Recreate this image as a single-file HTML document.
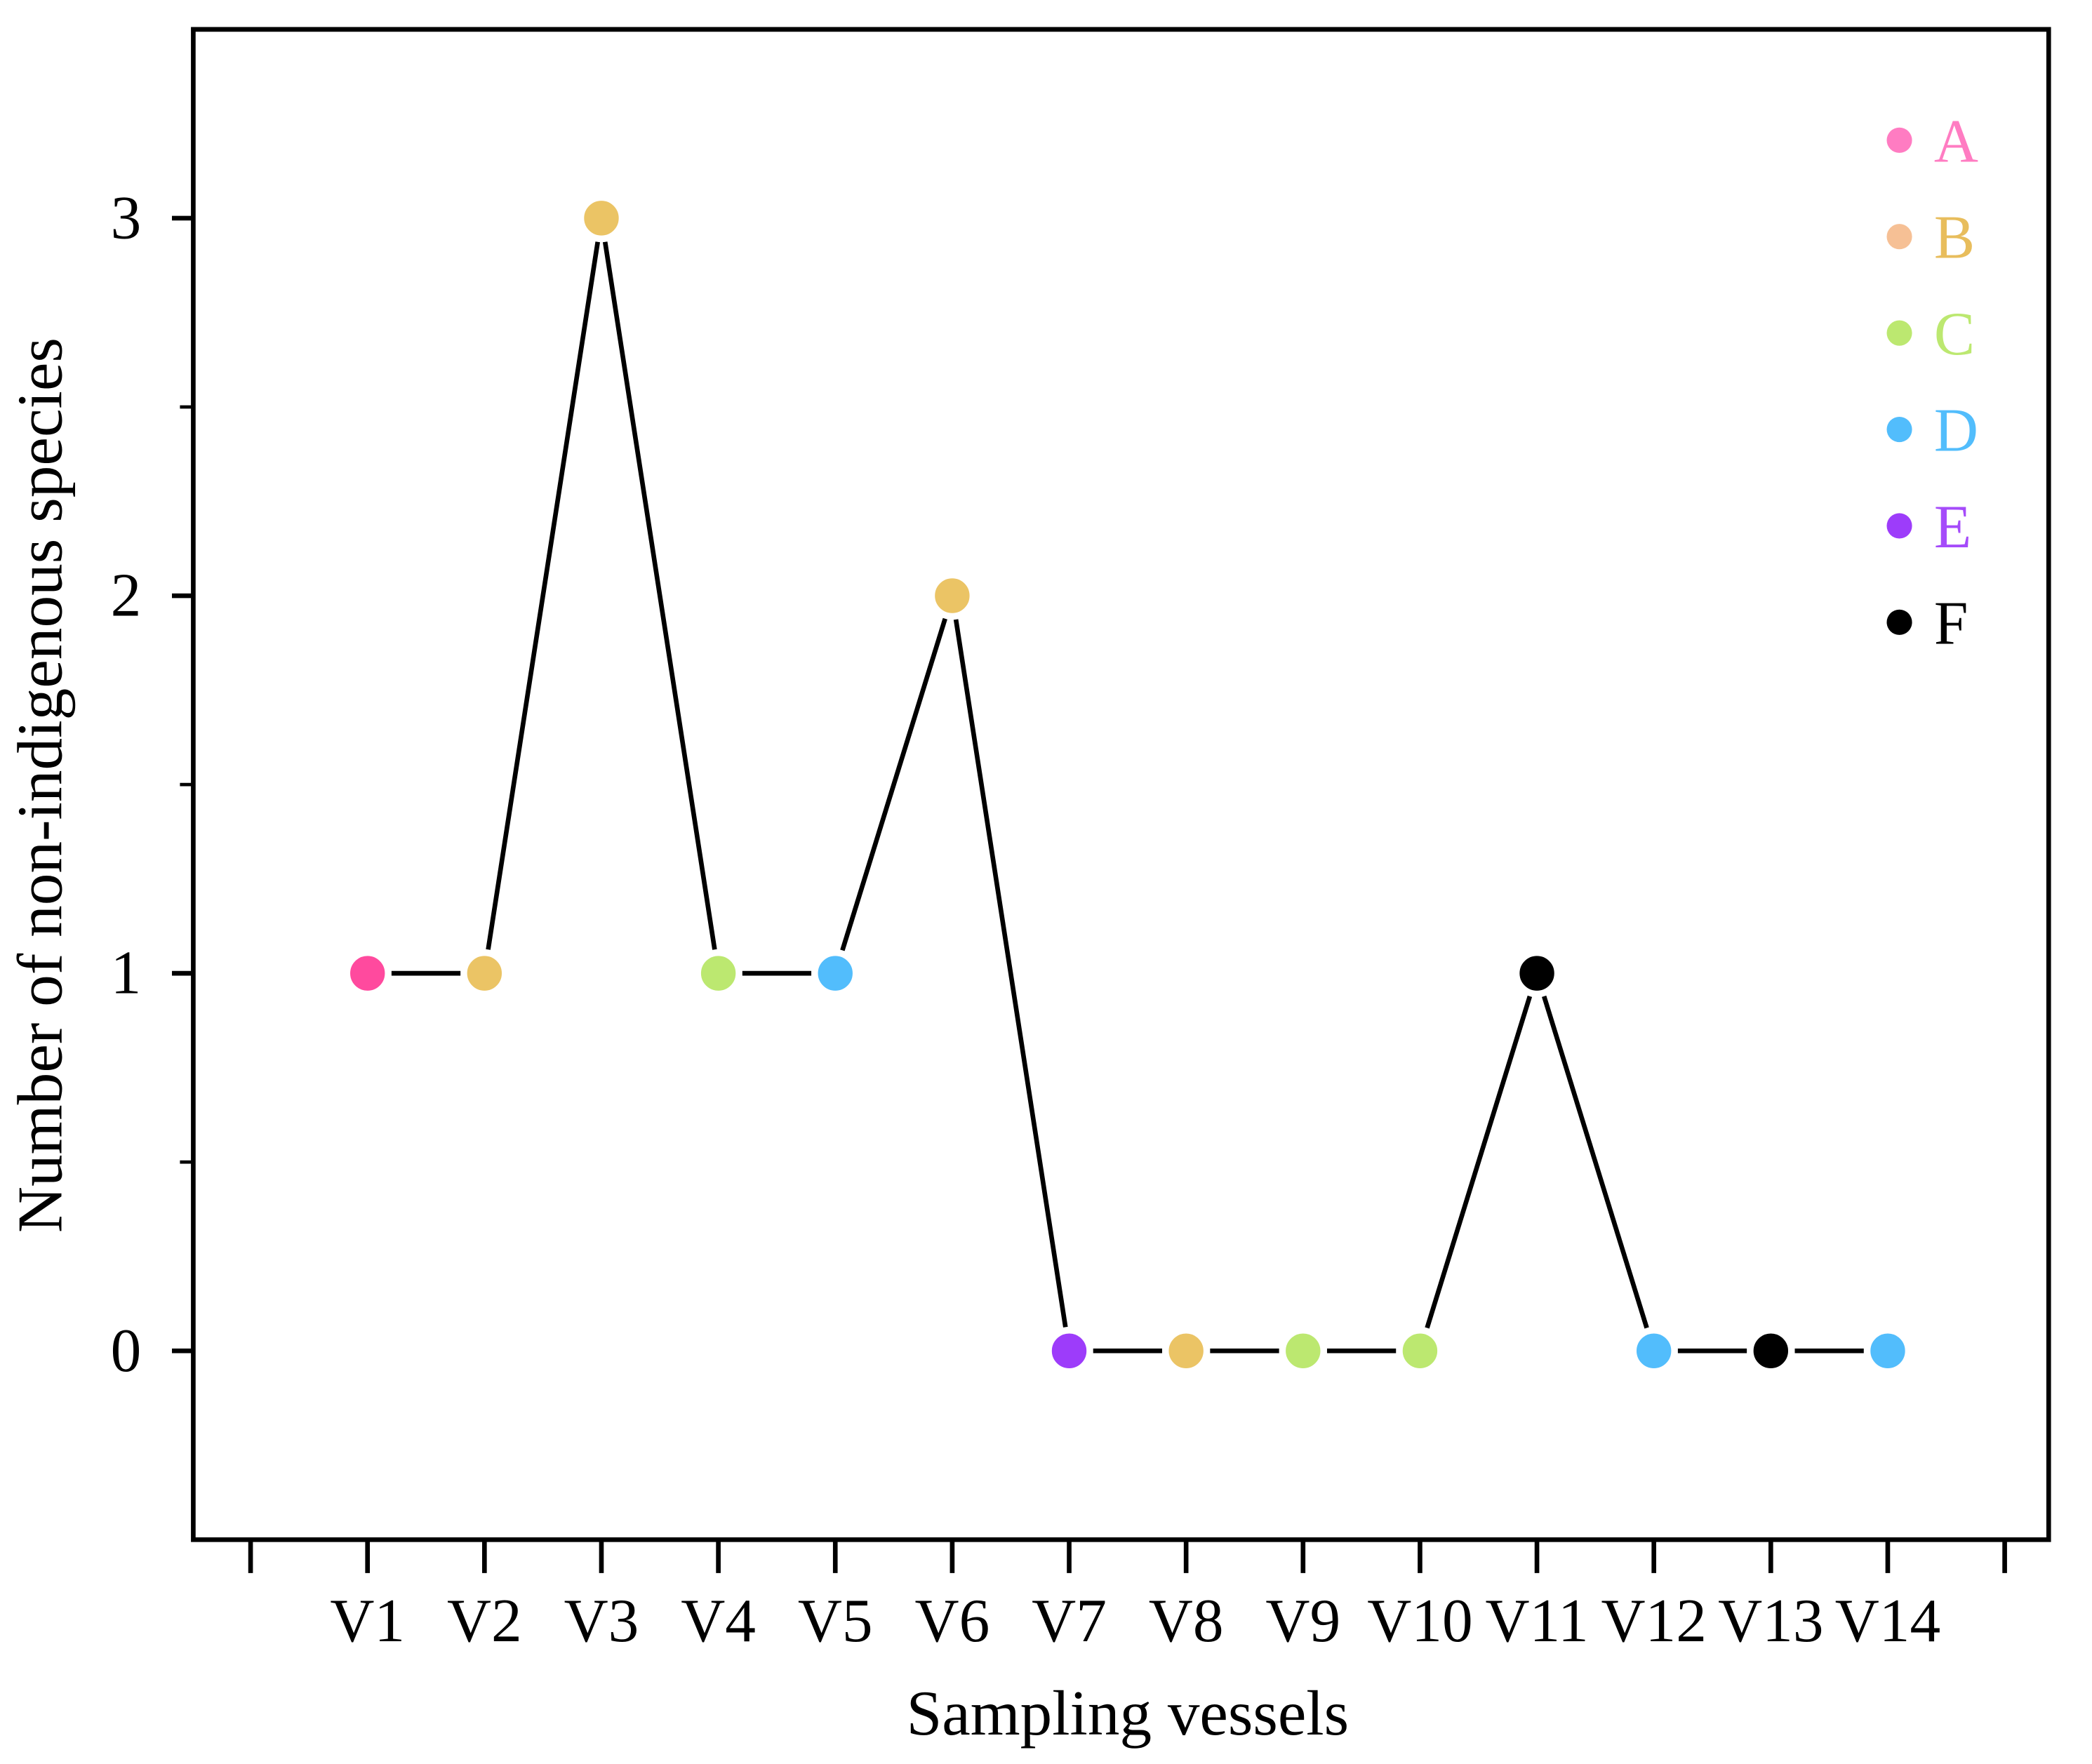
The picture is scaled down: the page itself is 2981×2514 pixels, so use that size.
<!DOCTYPE html>
<html><head><meta charset="utf-8"><style>
html,body{margin:0;padding:0;background:#fff;}
svg{display:block;font-family:"Liberation Serif",serif;}
</style></head><body>
<svg id="chart" width="2981" height="2514" viewBox="0 0 1569.5 1321" preserveAspectRatio="none" xmlns="http://www.w3.org/2000/svg">
<rect x="0" y="0" width="1570" height="1321" fill="#fff"/>
<g id="axes"></g>
<g id="series"></g>
<g id="legend"></g>
<text x="846" y="1299" font-size="48" text-anchor="middle" fill="#000">Sampling vessels</text>
<text transform="translate(46,588) rotate(-90)" font-size="48" text-anchor="middle" fill="#000">Number of non-indigenous species</text>
</svg>
<script>
const categories = ["V1","V2","V3","V4","V5","V6","V7","V8","V9","V10","V11","V12","V13","V14"];
const values = [1,1,3,1,1,2,0,0,0,0,1,0,0,0];
const groups = ["A","B","B","C","D","B","E","B","C","C","F","D","F","D"];
const yTicks = [0,1,2,3];
const yMinorTicks = [0.5,1.5,2.5];
const legendLabels = ["A","B","C","D","E","F"];
const markerColors = {A:"#ff4a9e",B:"#ebc465",C:"#bce870",D:"#52bdfc",E:"#9d3cfa",F:"#000000"};
const legendDotColors = {A:"#ff7cc2",B:"#f6c095",C:"#bce870",D:"#52bdfc",E:"#9d3cfa",F:"#000000"};
const legendTextColors = {A:"#ff7cc2",B:"#e8bd5c",C:"#bce870",D:"#52bdfc",E:"#a54bfa",F:"#000000"};

const NS="http://www.w3.org/2000/svg";
const L=145,R=1537,T=22,B=1153;
const yMin=-0.5,yMax=3.5;
function xPos(i){return 188+(i+1)*(1504-188)/15;}
function yPos(v){return B-(v-yMin)/(yMax-yMin)*(B-T);}
function mk(tag,attrs,parent){const e=document.createElementNS(NS,tag);for(const k in attrs)e.setAttribute(k,attrs[k]);parent.appendChild(e);return e;}
const axes=document.getElementById('axes');
let e;
e=mk('path',{d:`M${L},${T} L${R},${T} L${R},${B} L${L},${B} Z`,fill:'none',stroke:'#000','stroke-width':3.5},axes);


for(let i=-1;i<=categories.length;i++){
  e=mk('line',{x1:xPos(i),x2:xPos(i),y1:B,y2:B+25,stroke:'#000','stroke-width':3.5},axes);
  
  
}
categories.forEach((c,i)=>{
  e=mk('text',{x:xPos(i),y:1229,'font-size':46,'text-anchor':'middle',fill:'#000'},axes);
  e.textContent=c;
  
  
});
yTicks.forEach(v=>{
  e=mk('line',{x1:L-16,x2:L,y1:yPos(v),y2:yPos(v),stroke:'#000','stroke-width':3.5},axes);
  
  
  e=mk('text',{x:106,y:yPos(v)+15,'font-size':46,'text-anchor':'end',fill:'#000'},axes);
  e.textContent=v;
  
  
});
yMinorTicks.forEach(v=>{
  e=mk('line',{x1:L-10,x2:L,y1:yPos(v),y2:yPos(v),stroke:'#000','stroke-width':2.5},axes);
  
  
});
const series=document.getElementById('series');
for(let i=0;i<values.length-1;i++){
  const x1=xPos(i),y1=yPos(values[i]),x2=xPos(i+1),y2=yPos(values[i+1]);
  const dx=x2-x1,dy=y2-y1,len=Math.hypot(dx,dy),g=18;
  e=mk('line',{x1:x1+dx/len*g,y1:y1+dy/len*g,x2:x2-dx/len*g,y2:y2-dy/len*g,stroke:'#000','stroke-width':3.5},series);
  
  
}
values.forEach((v,i)=>{
  e=mk('circle',{cx:xPos(i),cy:yPos(v),r:14,fill:markerColors[groups[i]],stroke:'#fff','stroke-width':2},series);
  
  
});
const legend=document.getElementById('legend');
legendLabels.forEach((l,k)=>{
  const y=105+k*72.2;
  e=mk('circle',{cx:1425,cy:y,r:9.5,fill:legendDotColors[l]},legend);
  
  
  e=mk('text',{x:1451,y:y+16,'font-size':46,fill:legendTextColors[l]},legend);
  e.textContent=l;
  
  
});
</script>
</body></html>
